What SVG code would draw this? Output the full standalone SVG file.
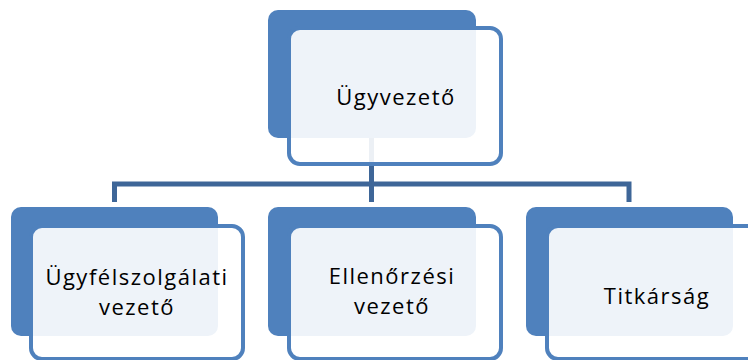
<svg xmlns="http://www.w3.org/2000/svg" width="748" height="360" viewBox="0 0 748 360">
  <style>
    .back { fill: #4f81bd; }
    .front { fill: #ffffff; fill-opacity: 0.9; stroke: #4f81bd; stroke-width: 4; }
    .conn { fill: none; stroke: #3e6698; stroke-width: 5; stroke-linejoin: miter; }
    .lbl { font-family: "Open Sans", "Noto Sans", "Liberation Sans", sans-serif; font-size: 22px; letter-spacing: 1.5px; fill: #000000; text-anchor: middle; }
  </style>
  <rect width="748" height="360" fill="#ffffff"/>
  <g id="connectors">
    <path class="conn" d="M114.5,202 V184 H629 V202"/>
    <path class="conn" d="M371.5,138 V202"/>
  </g>
  <g id="node-ugyvezeto">
    <rect class="back" x="268" y="10" width="208" height="128" rx="10"/>
    <rect class="front" x="289" y="28" width="212" height="136" rx="11"/>
    <text class="lbl" x="396" y="105">Ügyvezető</text>
  </g>
  <g id="node-ugyfelszolgalati">
    <rect class="back" x="11" y="207" width="207" height="129" rx="10"/>
    <rect class="front" x="31" y="226" width="212" height="133" rx="11"/>
    <text class="lbl" x="137" y="285">Ügyfélszolgálati</text>
    <text class="lbl" x="137" y="315">vezető</text>
  </g>
  <g id="node-ellenorzesi">
    <rect class="back" x="268" y="207" width="208" height="129" rx="10"/>
    <rect class="front" x="289" y="226" width="212" height="133" rx="11"/>
    <text class="lbl" x="392" y="284">Ellenőrzési</text>
    <text class="lbl" x="392" y="314">vezető</text>
  </g>
  <g id="node-titkarsag">
    <rect class="back" x="526" y="207" width="207" height="129" rx="10"/>
    <rect class="front" x="547" y="226" width="212" height="133" rx="11"/>
    <text class="lbl" x="657" y="304">Titkárság</text>
  </g>
</svg>
